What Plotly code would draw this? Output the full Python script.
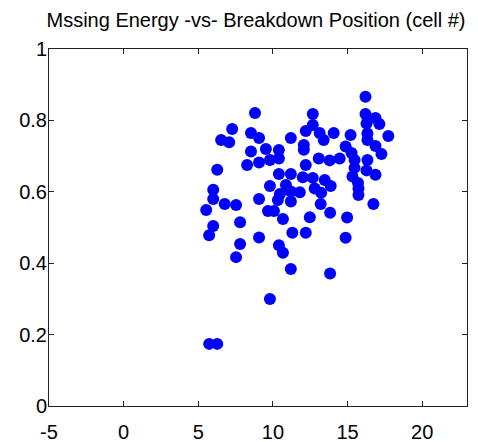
import plotly.graph_objects as go

# Breakdown position (cell #) and missing energy fraction for each event
cell_position = [
    5.73, 6.27, 7.53, 7.80, 5.73, 6.00, 5.53, 6.00, 6.00, 6.77,
    7.53, 7.80, 6.27, 6.53, 7.07, 7.27, 8.27, 8.53, 8.53, 8.80,
    9.07, 9.07, 9.07, 9.07, 9.80, 9.53, 9.80, 9.80, 9.67, 10.07,
    10.40, 10.40, 10.40, 10.33, 10.67, 10.40, 10.67, 11.20, 11.20, 11.20,
    10.47, 10.87, 11.20, 11.20, 11.80, 12.00, 12.07, 12.07, 12.20, 12.67,
    12.67, 13.13, 13.40, 14.07, 12.20, 12.67, 13.07, 13.80, 14.47, 13.47,
    13.87, 12.80, 13.23, 13.20, 13.83, 12.47, 11.30, 12.20, 13.83, 14.97,
    14.87, 15.20, 14.87, 15.27, 15.47, 15.47, 15.33, 15.70, 15.73, 15.73,
    16.20, 16.20, 16.87, 16.27, 17.13, 16.33, 16.33, 17.73, 16.87, 17.27,
    16.33, 16.27, 16.87, 16.73,
]
missing_energy = [
    0.174, 0.174, 0.417, 0.454, 0.478, 0.504, 0.549, 0.580, 0.606, 0.566,
    0.563, 0.515, 0.662, 0.745, 0.739, 0.776, 0.675, 0.713, 0.765, 0.821,
    0.751, 0.682, 0.580, 0.472, 0.300, 0.720, 0.689, 0.616, 0.546, 0.546,
    0.717, 0.693, 0.650, 0.577, 0.524, 0.450, 0.429, 0.384, 0.751, 0.650,
    0.594, 0.619, 0.601, 0.573, 0.599, 0.641, 0.731, 0.718, 0.770, 0.818,
    0.787, 0.765, 0.745, 0.765, 0.675, 0.639, 0.693, 0.688, 0.693, 0.633,
    0.616, 0.609, 0.597, 0.566, 0.541, 0.529, 0.485, 0.485, 0.371, 0.528,
    0.471, 0.759, 0.727, 0.709, 0.689, 0.667, 0.643, 0.625, 0.609, 0.591,
    0.866, 0.818, 0.807, 0.791, 0.790, 0.763, 0.745, 0.756, 0.728, 0.706,
    0.689, 0.660, 0.648, 0.566,
]

x_ticks = [-5, 0, 5, 10, 15, 20]
x_tick_labels = ["-5", "0", "5", "10", "15", "20"]
y_ticks = [0, 0.2, 0.4, 0.6, 0.8, 1]
y_tick_labels = ["0", "0.2", "0.4", "0.6", "0.8", "1"]

fig = go.Figure(
    go.Scatter(
        x=cell_position,
        y=missing_energy,
        mode="markers",
        marker=dict(color="#0000FF", size=12, line=dict(width=0)),
        showlegend=False,
    )
)

axis_style = dict(
    showline=True,
    linecolor="#222222",
    linewidth=1,
    mirror="ticks",
    ticks="inside",
    ticklen=5,
    tickcolor="#222222",
    showgrid=False,
    zeroline=False,
    automargin=False,
    tickfont=dict(family="Liberation Sans, Arial, sans-serif", size=20, color="black"),
)

fig.update_xaxes(range=[-5, 23], tickvals=x_ticks, ticktext=x_tick_labels,
                 ticklabelstandoff=8, **axis_style)
fig.update_yaxes(range=[0, 1], tickvals=y_ticks, ticktext=y_tick_labels,
                 ticklabelstandoff=-3, **axis_style)

fig.update_layout(
    width=478,
    height=442,
    margin=dict(l=49, r=11, t=49, b=36, autoexpand=False),
    paper_bgcolor="white",
    plot_bgcolor="white",
    title=dict(
        text="Mssing Energy -vs- Breakdown Position (cell #)",
        x=(40 + 472) / 2 / 478,
        xanchor="center",
        y=1 - 20 / 442,
        yanchor="middle",
        font=dict(family="Liberation Sans, Arial, sans-serif", size=20, color="black"),
    ),
)

fig.write_html("out.html")
